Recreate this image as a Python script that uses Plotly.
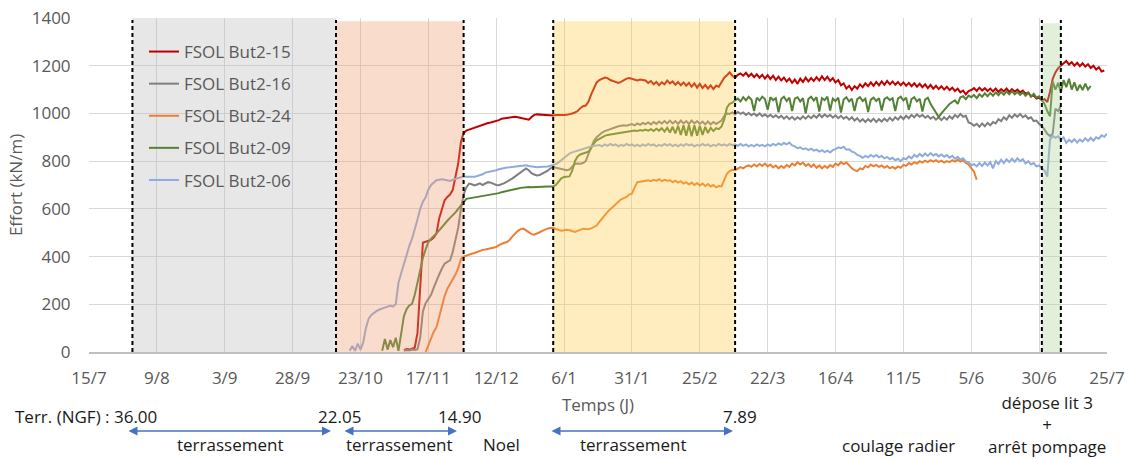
import pandas as pd
import plotly.graph_objects as go

# ---------------- data ----------------
BASE = "2018-07-15"
tick_labels = ["15/7", "9/8", "3/9", "28/9", "23/10", "17/11", "12/12", "6/1",
               "31/1", "25/2", "22/3", "16/4", "11/5", "5/6", "30/6", "25/7"]
y_ticks = [0, 200, 400, 600, 800, 1000, 1200, 1400]

series_names = ["FSOL But2-15", "FSOL But2-16", "FSOL But2-24", "FSOL But2-09", "FSOL But2-06"]
series_colors = ["#C00000", "#7F7F7F", "#ED7D31", "#548235", "#8FAADC"]

# daily readings (kN/m), first value at the given start date
red_start = "2018-11-08"
red_vals = [
    8, 12, 10, 15, 18, 80, 250, 458, 462, 466,
    470, 480, 497, 560, 600, 636, 650, 660, 680, 730,
    790, 880, 918, 928, 932, 936, 942, 946, 950, 952,
    956, 960, 962, 965, 968, 972, 978, 980, 983, 984,
    985, 986, 984, 982, 979, 976, 974, 985, 994, 996,
    995, 994, 992, 991, 992, 991, 993, 992, 991, 993,
    994, 996, 1000, 1004, 1010, 1022, 1030, 1033, 1050, 1080,
    1108, 1130, 1140, 1146, 1150, 1148, 1140, 1136, 1132, 1128,
    1132, 1140, 1146, 1148, 1144, 1140, 1138, 1142, 1140, 1138,
    1128, 1136, 1122, 1132, 1118, 1130, 1122, 1138, 1126, 1134,
    1120, 1132, 1118, 1130, 1116, 1128, 1112, 1126, 1108, 1124,
    1106, 1120, 1104, 1118, 1102, 1116, 1112, 1130, 1150, 1160,
    1172, 1158, 1150, 1162, 1168, 1158, 1170, 1155, 1166, 1152,
    1164, 1150, 1162, 1146, 1160, 1144, 1158, 1140, 1154, 1138,
    1150, 1134, 1146, 1128, 1142, 1124, 1146, 1132, 1150, 1134,
    1148, 1136, 1152, 1138, 1156, 1140, 1154, 1136, 1148, 1130,
    1140, 1118, 1126, 1104, 1116, 1098, 1114, 1104, 1122, 1110,
    1126, 1114, 1130, 1116, 1132, 1118, 1134, 1120, 1136, 1122,
    1134, 1120, 1132, 1118, 1130, 1116, 1128, 1114, 1126, 1112,
    1124, 1110, 1122, 1106, 1120, 1104, 1116, 1102, 1114, 1100,
    1112, 1098, 1108, 1094, 1104, 1088, 1096, 1080, 1094, 1098,
    1106, 1094, 1108, 1096, 1106, 1094, 1104, 1092, 1104, 1090,
    1102, 1092, 1104, 1090, 1102, 1092, 1100, 1088, 1096, 1082,
    1088, 1072, 1076, 1062, 1066, 1056, 1060, 1048, 1090, 1145,
    1172, 1190, 1200, 1212, 1220, 1205, 1215, 1200, 1212, 1198,
    1210, 1196, 1206, 1190, 1200, 1184, 1194, 1176, 1180,
]

grey_start = "2018-11-08"
grey_vals = [
    5, 8, 6, 10, 8, 12, 60, 170, 205, 222,
    240, 270, 300, 325, 350, 370, 378, 384, 420, 465,
    520, 600, 660, 690, 706, 703, 698, 702, 707, 700,
    706, 712, 710, 704, 700, 699, 702, 708, 714, 720,
    728, 736, 745, 755, 764, 769, 762, 750, 744, 740,
    742, 748, 755, 760, 770, 775, 772, 769, 766, 764,
    762, 765, 775, 788, 790, 789, 792, 800, 830, 862,
    885, 900, 912, 920, 926, 930, 936, 940, 944, 946,
    948, 950, 948, 952, 955, 950, 958, 952, 960, 955,
    962, 954, 964, 956, 966, 958, 968, 958, 970, 958,
    968, 956, 970, 958, 968, 956, 970, 958, 968, 956,
    966, 954, 966, 954, 964, 956, 962, 970, 990, 1000,
    998, 1004, 996, 1006, 998, 1004, 994, 1002, 992, 1000,
    990, 1000, 988, 996, 986, 994, 984, 992, 982, 990,
    978, 988, 976, 986, 974, 984, 976, 988, 978, 990,
    980, 992, 982, 996, 984, 996, 986, 994, 982, 992,
    980, 990, 978, 986, 974, 984, 970, 980, 966, 976,
    964, 976, 966, 978, 964, 976, 966, 978, 968, 982,
    970, 984, 974, 988, 976, 990, 980, 994, 984, 996,
    986, 994, 982, 990, 978, 986, 974, 984, 972, 984,
    974, 988, 978, 994, 984, 998, 986, 990, 962, 958,
    948, 956, 944, 958, 946, 960, 950, 964, 958, 976,
    968, 984, 974, 992, 982, 996, 986, 998, 984, 992,
    978, 984, 968, 970, 956, 948, 932, 915, 905, 915,
    1020, 1010, 1032,
]

orange_start = "2018-11-16"
orange_vals = [
    0, 30, 60, 85, 104, 150, 200, 235, 265, 285,
    300, 325, 350, 390, 400, 405, 408, 412, 415, 420,
    424, 428, 430, 432, 433, 435, 440, 448, 454, 458,
    461, 470, 485, 498, 508, 515, 517, 510, 502, 494,
    492, 496, 502, 508, 514, 518, 520, 521, 515, 510,
    508, 510, 512, 510, 506, 503, 508, 514, 517, 516,
    515, 518, 524, 530, 545, 560, 575, 587, 598, 608,
    620, 632, 640, 645, 650, 660, 664, 690, 712, 714,
    716, 718, 720, 716, 722, 718, 724, 716, 722, 718,
    720, 712, 718, 710, 716, 706, 712, 702, 710, 700,
    708, 698, 706, 696, 704, 694, 700, 690, 696, 694,
    720, 748, 758, 764, 762, 770, 775, 770, 778, 782,
    776, 786, 778, 788, 780, 790, 778, 786, 774, 782,
    770, 780, 772, 784, 776, 790, 782, 796, 786, 794,
    780, 788, 776, 786, 772, 782, 770, 780, 772, 784,
    776, 790, 782, 796, 788, 794, 780, 770, 762, 758,
    770, 766, 780, 774, 786, 778, 784, 776, 782, 772,
    780, 770, 776, 768, 778, 772, 784, 780, 792, 786,
    796, 790, 800, 794, 802, 796, 804, 798, 804, 796,
    802, 794, 800, 796, 804, 798, 806, 798, 804, 792,
    786, 770, 756, 722,
]

green_start = "2018-10-31"
green_vals = [
    5, 55, 10, 50, 20, 60, 5, 80, 150, 180,
    195, 202, 240, 290, 350, 395, 430, 460, 475, 485,
    497, 510, 525, 539, 550, 562, 573, 585, 600, 615,
    630, 642, 644, 646, 648, 650, 650, 652, 654, 655,
    657, 660, 662, 666, 670, 672, 676, 678, 680, 682,
    685, 688, 690, 692, 692, 691, 692, 693, 692, 692,
    693, 694, 694, 694, 700, 714, 728, 734, 734, 736,
    760, 800, 820, 828, 832, 836, 840, 855, 875, 887,
    894, 902, 906, 910, 912, 912, 914, 915, 918, 920,
    922, 924, 926, 928, 926, 930, 928, 932, 928, 934,
    926, 936, 928, 938, 924, 940, 920, 944, 916, 948,
    910, 950, 906, 952, 904, 950, 906, 948, 910, 944,
    918, 940, 926, 938, 934, 945, 975, 1025, 1040, 1045,
    1055, 1062, 1050, 1068, 1055, 1070, 1058, 1010, 1066, 1054,
    1070, 1060, 1015, 1068, 1056, 1064, 1005, 1060, 1070, 1052,
    1066, 1010, 1062, 1068, 1050, 1064, 1000, 1060, 1070, 1054,
    1068, 1008, 1064, 1056, 1070, 1012, 1062, 1052, 1066, 1004,
    1058, 1068, 1050, 1062, 1010, 1060, 1068, 1052, 1062, 1006,
    1058, 1066, 1052, 1064, 1012, 1060, 1068, 1056, 1064, 1010,
    1062, 1070, 1054, 1066, 1015, 1060, 1068, 1050, 1062, 1008,
    1058, 1066, 1040, 1020, 1000, 985, 1000, 1015, 1028, 1040,
    1048, 1055, 1040, 1068, 1072, 1060, 1075, 1068, 1078, 1064,
    1080, 1070, 1084, 1072, 1086, 1074, 1088, 1076, 1090, 1078,
    1092, 1080, 1094, 1080, 1090, 1078, 1088, 1074, 1086, 1070,
    1082, 1066, 1072, 1056, 1040, 1010, 988, 1135, 1100, 1128,
    1090, 1140, 1110, 1145, 1100, 1130, 1095, 1120, 1098, 1125,
    1100, 1115,
]

blue_start = "2018-10-19"
blue_vals = [
    5, 25, 5, 35, 10, 40, 100, 140, 155, 165,
    172, 178, 183, 186, 190, 194, 190, 200, 290, 330,
    370, 410, 445, 475, 510, 555, 600, 630, 648, 680,
    700, 712, 720, 722, 724, 722, 720, 717, 722, 726,
    730, 734, 736, 735, 734, 733, 735, 738, 740, 745,
    752, 754, 755, 758, 762, 766, 769, 771, 773, 774,
    775, 777, 779, 781, 782, 783, 780, 777, 775, 774,
    775, 776, 775, 778, 781, 783, 788, 795, 805, 815,
    825, 832, 837, 840, 844, 848, 852, 855, 858, 862,
    865, 866, 868, 862, 870, 864, 872, 866, 870, 862,
    868, 864, 872, 866, 870, 863, 869, 862, 870, 864,
    872, 866, 870, 862, 868, 864, 872, 865, 871, 863,
    869, 862, 870, 864, 872, 866, 870, 862, 868, 864,
    872, 865, 870, 862, 868, 864, 872, 866, 870, 864,
    872, 866, 870, 864, 872, 864, 870, 862, 868, 862,
    870, 864, 868, 862, 870, 864, 872, 866, 874, 868,
    876, 870, 878, 866, 862, 854, 858, 850, 854, 846,
    852, 844, 848, 840, 846, 838, 844, 836, 846, 850,
    858, 854, 860, 848, 850, 840, 836, 826, 822, 814,
    822, 816, 826, 818, 826, 816, 822, 812, 818, 808,
    814, 804, 810, 800, 812, 808, 820, 812, 826, 818,
    830, 820, 832, 822, 834, 824, 830, 820, 828, 818,
    826, 814, 822, 810, 818, 806, 812, 798, 796, 782,
    788, 778, 792, 780, 794, 782, 796, 770, 800, 788,
    806, 792, 808, 796, 810, 798, 812, 800, 808, 790,
    800, 786, 792, 778, 782, 770, 760, 735, 890, 906,
    898, 904, 890, 900, 876, 890, 880, 892, 878, 890,
    882, 896, 884, 898, 886, 900, 894, 908, 902, 915,
]

series_starts = [red_start, grey_start, orange_start, green_start, blue_start]
series_values = [red_vals, grey_vals, orange_vals, green_vals, blue_vals]

# construction phases (start, end)
phase_starts = ["2018-07-31", "2018-10-14", "2019-01-02", "2019-07-01"]
phase_ends = ["2018-10-14", "2018-11-30", "2019-03-10", "2019-07-08"]
phase_tops = [1400, 1386, 1386, 1378]
phase_fill = ["rgba(186,186,186,0.35)", "rgba(238,155,106,0.35)",
              "rgba(255,204,72,0.35)", "rgba(172,209,152,0.35)"]

# ---------------- figure ----------------
FONT = "Open Sans"
TXT_GREY = "#595959"

fig = go.Figure()
for name, color, start, vals in zip(series_names, series_colors, series_starts, series_values):
    dates = pd.date_range(start, periods=len(vals), freq="D")
    fig.add_trace(go.Scatter(x=dates, y=vals, mode="lines", name=name,
                             legendgroup=name,
                             line=dict(color=color, width=2)))

shapes = []
for s, e, top, fc in zip(phase_starts, phase_ends, phase_tops, phase_fill):
    shapes.append(dict(type="rect", xref="x", yref="y", x0=s, x1=e, y0=0, y1=top,
                       fillcolor=fc, line=dict(width=0), layer="above"))
bounds = sorted(set(phase_starts) | set(phase_ends))
for b in bounds:
    shapes.append(dict(type="line", xref="x", yref="y", x0=b, x1=b, y0=0, y1=1392,
                       line=dict(color="black", width=2, dash="4px,3px"), layer="above"))

# plot area in page pixels: left 89, right 1107, top 18, bottom 352
def px(xp):
    return (xp - 89) / 1018.0

def py(yp):
    return (352 - yp) / 334.0

annots = []
def txt(text, xp, yp, anchor="center", yanchor="middle"):
    annots.append(dict(text=text, xref="paper", yref="paper", x=px(xp), y=py(yp),
                       xanchor=anchor, yanchor=yanchor, showarrow=False,
                       font=dict(family=FONT, size=17, color="#1A1A1A")))

txt("Terr. (NGF) : 36.00", 13, 416, "left")
txt("22.05", 339.5, 416)
txt("14.90", 459.5, 416)
txt("7.89", 740, 416)
txt("terrassement", 230, 458, yanchor="bottom")
txt("terrassement", 399, 458, yanchor="bottom")
txt("Noel", 501, 458, yanchor="bottom")
txt("terrassement", 633, 458, yanchor="bottom")
txt("coulage radier", 898, 445)
txt("dépose lit 3<br>+<br>arrêt pompage", 1047, 425)

for x0, x1 in [(127, 331), (343, 457), (550, 733)]:
    annots.append(dict(text="", xref="paper", yref="paper", x=px(x1), y=py(431),
                       ax=x0 - x1, ay=0, axref="pixel", ayref="pixel",
                       showarrow=True, arrowside="end+start", arrowhead=2,
                       arrowsize=1.2, arrowwidth=1.5, arrowcolor="#4472C4",
                       standoff=0, startstandoff=0))

x_ticks = pd.date_range(BASE, periods=len(tick_labels), freq="25D")

fig.update_layout(
    width=1130, height=459,
    margin=dict(l=89, r=23, t=18, b=107, autoexpand=False),
    paper_bgcolor="white", plot_bgcolor="white",
    font=dict(family=FONT, size=17, color=TXT_GREY),
    showlegend=True,
    legend=dict(x=px(144), y=py(34), xanchor="left", yanchor="top",
                bgcolor="rgba(0,0,0,0)", font=dict(family=FONT, size=17, color=TXT_GREY),
                tracegroupgap=7, itemwidth=30),
    shapes=shapes,
    annotations=annots,
    xaxis=dict(type="date",
               range=[x_ticks[0], x_ticks[-1]],
               tickvals=x_ticks,
               ticktext=tick_labels,
               automargin=False,
               showgrid=True, gridcolor="#D9D9D9", gridwidth=1,
               showline=True, linecolor="#BFBFBF", linewidth=2,
               ticks="outside", ticklen=10, tickcolor="rgba(0,0,0,0)",
               tickfont=dict(family=FONT, size=17, color=TXT_GREY),
               ticklabeloverflow="allow",
               title=dict(text="Temps (J)", standoff=11,
                          font=dict(family=FONT, size=17, color=TXT_GREY)),
               zeroline=False),
    yaxis=dict(range=[0, 1400], tickvals=y_ticks,
               automargin=False,
               showgrid=True, gridcolor="#D9D9D9", gridwidth=1,
               zeroline=False, showline=False,
               ticks="outside", ticklen=14, tickcolor="rgba(0,0,0,0)",
               tickfont=dict(family=FONT, size=17, color=TXT_GREY),
               ticklabeloverflow="allow",
               title=dict(text="Effort (kN/m)", standoff=4,
                          font=dict(family=FONT, size=17, color=TXT_GREY))),
)

# the page body has a default 8px margin; remove it so the figure fills the window
fig.write_html("out.html", config={"displayModeBar": False},
               post_script="document.body.style.margin='0px';")
